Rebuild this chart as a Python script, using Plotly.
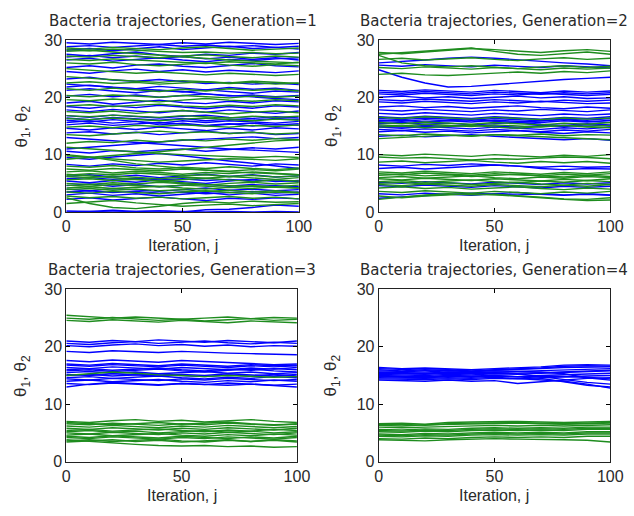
import plotly.graph_objects as go

iterations = [0, 10, 20, 30, 40, 50, 60, 70, 80, 90, 100]

gen1_theta1 = [
    [29.5,29.3,29.6,29.4,29.2,29.5,29.3,29.6,29.4,29.2,29.4],
    [28.8,29.0,28.7,29.0,29.2,28.9,29.1,28.8,29.0,28.7,28.9],
    [28.2,28.5,28.1,28.4,28.8,28.3,28.6,28.9,28.5,28.7,28.4],
    [27.5,27.2,27.6,27.9,27.4,27.1,27.5,27.3,27.7,27.5,27.8],
    [27.0,27.3,26.9,27.2,26.8,27.1,26.7,27.0,26.6,26.9,26.5],
    [26.5,26.8,26.3,26.6,26.9,26.5,26.2,26.6,26.4,26.7,26.9],
    [25.2,25.5,25.1,25.6,25.8,25.4,25.2,25.6,25.9,25.5,25.3],
    [24.5,24.2,24.6,24.9,24.5,24.8,24.4,24.7,24.5,24.3,24.6],
    [23.2,23.5,23.0,22.8,23.1,22.7,22.4,22.6,22.3,22.5,22.2],
    [22.3,22.0,21.8,21.5,21.9,21.6,21.3,21.7,21.4,21.6,21.2],
    [21.8,22.1,21.7,21.5,21.2,21.0,20.6,20.3,20.0,19.8,19.6],
    [21.2,21.5,21.1,20.8,21.2,20.9,21.3,21.0,20.7,21.1,20.9],
    [20.2,20.5,20.1,20.4,20.0,20.3,20.6,20.2,20.4,20.1,20.3],
    [19.0,19.3,18.8,19.2,19.5,19.1,18.9,19.3,19.0,19.4,19.2],
    [18.4,18.1,18.5,18.2,18.6,18.3,18.0,18.4,18.1,18.5,18.3],
    [17.8,17.5,17.9,17.6,17.3,17.7,17.4,17.8,17.5,17.2,17.6],
    [16.8,16.5,16.9,16.6,16.4,16.7,16.9,16.5,16.3,16.6,16.4],
    [16.4,16.1,16.5,16.2,16.0,16.3,15.9,16.2,16.0,16.3,16.1],
    [16.0,15.7,16.1,15.8,15.5,15.9,15.6,15.9,15.7,15.5,15.8],
    [15.6,15.9,15.5,15.8,15.2,15.5,15.1,15.4,15.0,15.3,15.1],
    [15.2,15.5,15.1,15.4,15.6,15.3,15.0,15.3,15.5,15.2,15.4],
    [14.6,14.3,14.7,14.4,14.8,14.5,14.2,14.6,14.3,14.7,14.5],
    [13.8,14.0,13.6,13.9,13.5,13.8,14.1,13.7,13.9,13.5,13.7],
    [13.0,12.7,12.4,12.1,11.8,11.5,11.2,11.0,10.8,10.6,10.4],
    [11.0,11.3,11.6,12.0,12.2,12.5,12.7,12.9,13.1,12.8,13.0],
    [10.6,10.3,10.7,10.5,10.8,11.0,10.6,10.9,11.2,11.0,11.3],
    [9.5,9.2,9.6,9.9,10.2,9.8,9.3,8.9,8.5,8.0,7.6],
    [8.3,8.0,8.4,8.1,8.5,8.2,8.6,8.3,8.0,8.4,8.2],
    [6.2,6.5,6.1,6.4,6.0,6.3,6.6,6.2,6.5,6.1,6.3],
    [5.8,6.0,5.7,5.9,5.6,5.8,5.5,5.7,5.4,5.6,5.3],
    [5.4,5.1,5.5,5.2,5.6,5.3,5.0,5.4,5.7,5.3,5.5],
    [4.6,4.9,4.5,4.8,4.4,4.7,4.9,4.5,4.8,4.6,4.4],
    [4.0,3.7,4.1,3.8,3.6,3.9,4.2,3.8,4.0,3.7,3.9],
    [3.5,3.7,3.4,3.6,3.3,3.5,3.2,3.4,3.6,3.3,3.5],
    [3.0,3.3,2.9,3.2,2.8,3.1,3.4,3.0,3.3,2.9,3.1],
    [2.2,2.5,2.1,2.4,2.6,2.3,2.0,2.4,2.2,2.5,2.3],
    [0.2,0.1,0.3,0.1,0.2,0.0,0.4,0.5,0.8,1.2,1.0],
    [0.0,0.1,0.0,0.1,0.2,0.1,0.0,0.1,0.0,0.1,0.0],
]

gen1_theta2 = [
    [28.6,28.4,28.7,28.5,28.3,28.6,28.8,28.5,28.2,28.4,28.6],
    [28.3,28.1,28.4,28.2,28.0,27.8,27.9,27.7,27.8,27.6,27.7],
    [28.0,28.2,27.9,27.6,27.3,27.0,26.8,26.5,26.3,26.1,26.0],
    [27.2,27.0,27.3,27.1,26.9,27.2,27.4,27.1,26.9,27.2,27.0],
    [26.6,26.4,26.7,26.5,26.3,26.1,25.9,26.2,26.0,25.8,26.1],
    [26.0,25.8,26.1,25.7,25.5,25.8,26.0,25.6,25.4,25.7,25.5],
    [25.0,24.7,24.5,24.2,24.4,24.1,23.9,24.2,24.0,23.8,24.0],
    [23.6,23.3,23.0,22.8,22.6,22.9,22.7,22.5,22.8,22.6,22.4],
    [22.5,22.7,22.4,22.6,22.3,22.5,22.7,22.4,22.6,22.3,22.5],
    [21.5,21.2,21.6,21.3,21.0,21.4,21.1,21.5,21.2,21.4,21.1],
    [20.3,20.1,20.4,20.2,20.0,20.3,20.1,19.9,20.2,20.0,20.2],
    [19.6,19.4,19.7,19.5,19.2,19.5,19.8,19.5,19.3,19.6,19.4],
    [18.5,18.7,18.4,18.6,18.8,18.5,18.3,18.6,18.4,18.7,18.5],
    [17.5,17.3,17.6,17.2,17.5,17.7,17.4,17.1,17.4,17.6,17.3],
    [16.8,16.6,16.9,16.7,16.5,16.8,16.6,16.4,16.7,16.5,16.7],
    [16.3,16.1,16.4,16.2,15.9,16.2,16.4,16.1,15.9,16.2,16.0],
    [14.8,15.0,14.7,15.1,14.9,15.2,15.0,14.8,15.1,14.9,15.2],
    [13.5,13.3,13.6,13.9,14.1,13.8,14.0,13.7,13.9,13.6,13.8],
    [12.0,12.3,12.1,12.5,12.2,12.6,12.4,12.7,12.5,12.8,12.6],
    [9.2,9.5,9.8,10.2,10.5,10.9,11.3,11.6,12.0,12.4,12.6],
    [11.3,11.0,10.7,10.5,10.2,10.0,9.8,9.6,9.5,9.7,9.5],
    [10.0,9.6,9.0,8.4,8.0,7.6,7.3,7.0,6.8,6.6,6.5],
    [9.8,9.5,9.2,9.0,8.7,8.9,9.1,9.3,9.2,9.0,9.3],
    [8.0,7.8,8.1,7.7,7.5,7.8,7.6,7.9,7.6,7.4,7.7],
    [7.5,7.3,7.6,7.4,7.2,7.5,7.3,7.1,7.4,7.2,7.5],
    [7.0,7.2,6.8,7.1,6.9,6.6,6.9,6.7,7.0,6.8,6.5],
    [6.6,6.3,6.0,5.6,5.3,5.0,4.8,4.6,4.5,4.3,4.2],
    [6.4,6.7,6.5,6.8,6.6,6.3,6.5,6.2,6.4,6.1,6.3],
    [6.2,6.0,6.3,6.1,5.8,6.1,5.9,6.2,6.0,5.7,6.0],
    [5.6,5.8,5.5,5.7,5.4,5.6,5.9,5.6,5.3,5.6,5.4],
    [5.0,4.8,5.1,4.9,5.2,4.9,4.7,5.0,5.2,4.9,5.1],
    [4.7,4.5,4.8,4.6,4.4,4.7,4.5,4.3,4.6,4.4,4.7],
    [4.2,4.4,4.1,4.3,4.5,4.2,4.0,4.3,4.1,4.4,4.2],
    [3.9,4.1,3.8,4.0,3.7,3.9,3.6,3.8,3.5,3.7,3.4],
    [3.5,3.3,3.6,3.4,3.2,3.5,3.7,3.4,3.2,3.5,3.3],
    [2.8,2.5,2.7,2.4,2.6,2.3,2.5,2.7,2.4,2.6,2.3],
    [2.5,1.5,0.8,0.6,1.0,1.5,1.8,1.6,1.9,1.7,1.8],
    [1.5,1.8,2.0,1.6,1.3,1.0,1.2,1.4,1.1,1.3,1.5],
]

gen2_theta1 = [
    [26.0,26.2,26.5,26.8,27.0,26.8,26.5,26.2,26.0,25.8,25.5],
    [25.6,25.4,25.7,25.5,25.3,25.6,25.4,25.2,25.5,25.3,25.1],
    [24.8,23.5,22.5,21.8,21.9,22.2,22.6,22.9,23.1,23.3,23.5],
    [21.2,21.0,21.3,21.1,20.9,21.2,21.0,20.8,21.1,20.9,21.1],
    [20.9,20.7,21.0,20.8,20.6,20.9,20.7,20.5,20.8,20.6,20.8],
    [20.6,20.4,20.7,20.5,20.3,20.6,20.4,20.7,20.5,20.3,20.5],
    [20.0,20.2,19.9,20.1,19.8,20.0,20.2,19.9,20.1,19.8,19.9],
    [19.6,19.4,19.7,19.5,19.3,19.6,19.4,19.2,19.5,19.3,19.5],
    [19.2,19.0,19.3,19.1,18.9,19.2,19.0,19.3,19.1,18.9,19.0],
    [18.3,18.5,18.2,18.4,18.1,18.3,18.5,18.2,18.0,18.3,18.1],
    [17.8,17.6,17.9,17.7,17.5,17.8,17.6,17.9,17.7,17.5,17.8],
    [17.2,17.0,17.3,17.1,16.9,17.2,17.0,16.8,17.1,16.9,17.1],
    [16.6,16.4,16.7,16.5,16.3,16.6,16.4,16.2,16.5,16.3,16.6],
    [16.3,16.1,16.4,16.2,16.0,16.3,16.1,15.9,16.2,16.0,16.3],
    [16.0,15.8,16.1,15.9,15.7,16.0,15.8,15.6,15.9,15.7,16.0],
    [15.8,16.0,15.7,15.9,16.1,15.8,15.6,15.9,16.1,15.8,15.6],
    [15.4,15.6,15.3,15.5,15.2,15.4,15.6,15.3,15.1,15.4,15.2],
    [15.0,14.8,15.1,14.9,15.2,15.0,14.8,15.1,14.9,15.2,15.0],
    [14.8,14.6,14.9,14.7,14.5,14.8,14.6,14.4,14.7,14.5,14.8],
    [14.4,14.2,14.5,14.3,14.1,14.4,14.2,14.0,14.3,14.1,14.4],
    [14.0,14.2,13.9,14.1,13.8,14.0,14.2,13.9,13.7,14.0,13.8],
    [13.2,13.4,13.1,13.3,13.5,13.2,13.0,12.8,12.6,12.8,12.5],
    [8.2,8.0,8.3,8.1,8.4,8.2,8.0,7.8,8.0,7.8,7.9],
    [7.6,7.8,7.5,7.7,7.9,8.2,8.0,7.6,7.4,7.6,7.5],
    [5.2,5.0,5.3,5.1,4.9,5.2,5.0,4.8,5.1,4.9,5.1],
    [4.6,4.4,4.7,4.5,4.3,4.6,4.4,4.2,4.5,4.3,4.5],
    [3.2,3.0,3.3,3.1,2.9,3.2,3.4,3.1,2.9,3.2,3.0],
    [2.4,2.6,2.9,3.1,3.3,3.1,3.0,3.2,3.0,3.1,2.9],
]

gen2_theta2 = [
    [27.8,27.6,27.9,28.2,28.5,28.3,28.0,27.8,28.1,28.3,28.0],
    [27.5,27.8,28.0,28.3,28.6,28.0,27.5,27.3,27.6,27.9,27.5],
    [27.3,26.0,25.5,25.3,25.5,25.2,25.0,25.3,25.5,25.2,25.4],
    [26.6,26.8,26.5,26.7,26.9,26.6,26.4,26.7,26.9,26.6,26.8],
    [25.2,25.0,25.3,25.1,24.9,25.2,25.0,24.8,25.1,24.9,25.1],
    [24.0,24.2,23.9,23.8,24.0,24.2,24.4,24.2,24.5,24.3,24.6],
    [16.5,16.3,16.6,16.4,16.2,16.5,16.3,16.1,16.4,16.2,16.4],
    [15.6,15.4,15.7,15.5,15.3,15.6,15.4,15.2,15.5,15.3,15.6],
    [15.2,15.0,15.3,15.1,14.9,15.2,15.0,14.8,15.1,14.9,15.1],
    [14.8,15.0,14.7,14.9,15.1,14.8,14.6,14.9,15.1,14.8,14.7],
    [13.5,13.3,13.6,13.4,13.2,13.5,13.3,13.1,12.9,12.7,12.6],
    [12.8,13.0,13.2,13.4,13.3,13.5,13.4,13.6,13.3,13.5,13.4],
    [10.0,9.8,10.1,9.9,9.7,10.0,9.8,9.6,9.9,9.7,10.0],
    [9.6,9.4,9.5,9.3,9.1,9.3,9.2,9.4,9.6,9.5,9.3],
    [8.7,8.9,8.6,8.8,9.0,8.7,8.5,8.8,8.6,8.8,8.5],
    [7.0,6.8,7.1,6.9,6.7,7.0,6.8,6.6,6.9,6.7,7.0],
    [6.7,6.5,6.8,6.6,6.4,6.7,6.5,6.3,6.6,6.4,6.7],
    [6.4,6.6,6.3,6.5,6.2,6.4,6.6,6.3,6.1,6.4,6.2],
    [6.0,6.2,5.9,6.1,6.3,6.0,5.8,6.1,5.9,6.2,6.0],
    [5.8,5.6,5.9,5.7,5.5,5.8,5.6,5.4,5.7,5.5,5.8],
    [5.3,5.5,5.2,5.4,5.6,5.3,5.1,5.4,5.2,5.5,5.3],
    [5.0,5.2,4.9,5.1,4.8,5.0,5.2,4.9,4.7,5.0,4.8],
    [4.8,4.6,4.9,4.7,4.5,4.8,4.6,4.4,4.7,4.5,4.8],
    [4.2,4.4,4.1,4.3,4.0,4.2,4.4,4.1,3.9,4.2,4.0],
    [3.6,3.4,3.7,3.5,3.3,3.6,3.4,3.2,3.5,3.3,3.6],
    [2.8,2.5,2.8,3.0,3.2,3.0,2.8,2.5,2.2,2.0,2.1],
    [2.2,2.6,3.0,3.2,3.0,3.1,2.9,2.6,2.3,2.2,2.5],
]

gen3_theta1 = [
    [21.0,20.8,21.1,20.9,21.2,21.0,20.8,21.1,20.9,20.7,21.0],
    [20.6,20.4,20.7,20.9,20.6,20.8,21.0,20.7,20.5,20.8,20.6],
    [20.2,20.0,20.3,20.5,20.2,20.4,20.1,20.3,20.0,20.2,20.1],
    [19.2,19.0,19.3,19.1,19.0,19.2,19.0,18.9,18.8,18.7,18.6],
    [17.6,17.4,17.7,17.5,17.3,17.6,17.4,17.2,17.0,16.9,17.0],
    [17.0,16.8,17.1,16.9,16.7,17.0,16.8,16.6,16.9,16.7,16.8],
    [16.8,16.6,16.9,16.7,16.5,16.8,16.6,16.4,16.7,16.5,16.7],
    [16.4,16.2,16.5,16.3,16.1,16.4,16.2,16.0,16.3,16.1,16.4],
    [16.0,16.2,15.9,16.1,16.3,16.0,15.8,16.1,15.9,16.2,16.0],
    [15.8,16.0,15.7,15.9,16.1,15.8,15.6,15.9,16.1,15.8,15.6],
    [15.5,15.7,15.4,15.6,15.3,15.5,15.7,15.4,15.6,15.3,15.5],
    [15.2,15.0,15.3,15.1,14.9,15.2,15.0,15.3,15.1,14.9,15.2],
    [15.0,15.2,14.9,15.1,15.3,15.0,14.8,15.1,14.9,15.2,14.9],
    [14.6,14.8,14.5,14.7,14.9,14.6,14.4,14.7,14.5,14.8,14.6],
    [14.4,14.2,14.5,14.3,14.1,14.4,14.2,14.5,14.3,14.1,14.3],
    [14.0,14.2,13.9,14.1,14.3,14.0,13.8,14.1,13.9,14.2,14.0],
    [13.6,13.4,13.7,13.5,13.3,13.6,13.4,13.7,13.5,13.3,13.5],
    [13.0,13.5,13.8,13.6,13.4,13.6,13.5,13.3,13.5,13.2,13.0],
]

gen3_theta2 = [
    [25.5,25.3,25.0,25.2,25.0,24.8,25.0,25.2,24.9,25.1,25.0],
    [25.0,24.8,25.1,24.9,24.6,24.8,24.5,24.7,24.9,24.6,24.8],
    [24.6,24.4,24.7,24.5,24.3,24.6,24.4,24.2,24.5,24.3,24.2],
    [15.0,15.3,15.6,15.4,15.1,15.0,14.8,15.0,14.9,14.7,14.8],
    [7.0,6.8,7.1,7.3,7.0,7.2,6.9,7.1,7.3,7.0,6.8],
    [6.8,6.6,6.4,6.6,6.8,6.5,6.7,6.9,6.6,6.4,6.5],
    [6.6,6.4,6.7,6.5,6.3,6.6,6.4,6.7,6.5,6.3,6.6],
    [6.2,6.0,6.3,6.1,5.9,6.2,6.0,6.3,6.1,5.9,6.1],
    [5.8,5.6,5.9,5.7,5.5,5.8,5.6,5.9,5.7,5.5,5.8],
    [5.4,5.6,5.3,5.5,5.7,5.4,5.2,5.5,5.3,5.6,5.4],
    [5.2,5.4,5.1,5.3,5.0,5.2,5.4,5.1,5.3,5.0,5.2],
    [5.0,4.8,5.1,4.9,4.7,5.0,4.8,5.1,4.9,4.7,5.0],
    [4.6,4.8,4.5,4.7,4.9,4.6,4.4,4.7,4.5,4.8,4.6],
    [4.4,4.2,4.5,4.3,4.1,4.4,4.2,4.0,4.3,4.1,4.4],
    [4.2,4.0,4.3,4.1,3.9,4.2,4.0,4.3,4.1,3.9,4.2],
    [3.6,3.8,3.5,3.7,3.9,3.6,3.4,3.7,3.5,3.8,3.6],
    [3.4,3.6,3.8,3.5,3.7,3.4,3.6,3.8,3.5,3.7,3.4],
    [3.8,3.5,3.2,3.0,2.8,2.7,2.8,2.6,2.7,2.5,2.6],
]

gen4_theta1 = [
    [16.4,16.2,16.3,16.1,16.0,16.2,16.3,16.5,16.8,16.9,16.8],
    [16.2,16.0,15.9,16.0,15.8,16.0,16.1,16.3,16.6,16.7,16.6],
    [16.0,15.8,16.0,15.9,15.7,15.9,16.0,16.2,16.4,16.5,16.5],
    [15.8,15.7,15.6,15.8,15.7,15.8,15.7,15.6,15.3,14.6,14.2],
    [15.6,15.5,15.4,15.6,15.5,15.6,15.7,15.9,16.0,16.1,16.2],
    [15.5,15.4,15.3,15.5,15.4,15.5,15.4,15.5,15.6,15.8,15.9],
    [15.4,15.3,15.2,15.4,15.3,15.4,15.3,14.8,14.3,13.8,13.5],
    [15.2,15.1,15.0,15.2,15.1,15.3,15.2,15.4,15.5,15.7,15.8],
    [15.0,14.9,14.8,15.0,14.9,15.0,14.8,14.5,13.9,13.3,13.0],
    [14.9,14.8,14.7,14.9,14.8,14.9,14.8,14.9,14.8,14.7,14.4],
    [14.8,14.7,14.6,14.8,14.7,14.9,14.8,15.0,15.1,15.3,15.4],
    [14.6,14.5,14.5,14.6,14.5,14.7,14.5,14.3,14.0,13.5,12.8],
    [14.4,14.3,14.3,14.4,14.3,14.5,14.4,14.6,14.8,14.9,15.0],
    [14.2,14.1,14.0,14.2,14.0,14.1,13.6,13.9,14.2,14.5,14.6],
]

gen4_theta2 = [
    [6.6,6.7,6.5,6.8,6.9,7.0,7.0,6.9,6.8,6.9,7.0],
    [6.4,6.5,6.3,6.6,6.7,6.8,6.8,6.7,6.6,6.7,6.8],
    [6.3,6.2,6.4,6.5,6.6,6.6,6.7,6.6,6.5,6.6,6.7],
    [6.0,5.9,6.0,6.1,6.2,6.3,6.2,6.3,6.2,6.3,6.4],
    [5.6,5.5,5.7,5.6,5.8,5.9,5.8,5.9,5.8,6.0,6.0],
    [5.4,5.3,5.5,5.4,5.6,5.7,5.6,5.7,5.6,5.8,5.8],
    [5.2,5.1,5.3,5.2,5.4,5.5,5.4,5.5,5.4,5.6,5.6],
    [4.8,4.7,4.9,4.8,5.0,5.1,5.0,5.1,5.0,5.2,5.2],
    [4.6,4.5,4.7,4.6,4.8,4.9,4.8,4.9,4.8,5.0,5.0],
    [4.4,4.3,4.5,4.4,4.6,4.7,4.6,4.7,4.6,4.8,4.8],
    [4.0,3.9,4.1,4.0,4.2,4.3,4.2,4.3,4.2,4.4,4.4],
    [3.8,3.7,3.6,3.8,3.9,4.0,3.9,3.9,3.8,3.7,3.4],
]

titles = ["Bacteria trajectories, Generation=1", "Bacteria trajectories, Generation=2",
          "Bacteria trajectories, Generation=3", "Bacteria trajectories, Generation=4"]
x_title = "Iteration, j"
y_title = "θ<sub>1</sub>, θ<sub>2</sub>"
x_ticks = [0, 50, 100]
y_ticks = [0, 10, 20, 30]

panels = [
    (gen1_theta1, gen1_theta2),
    (gen2_theta1, gen2_theta2),
    (gen3_theta1, gen3_theta2),
    (gen4_theta1, gen4_theta2),
]

W, H = 634, 516
# plot-area pixel boxes: (left, right, top, bottom)
boxes = [(64, 303, 33, 211), (385, 623, 33, 211), (64, 301, 291, 469), (385, 623, 291, 469)]
ylabel_x = [19, 338, 19, 338]

BLUE = "#0000ff"
GREEN = "#1e8c1e"
FONT = "Arial, Liberation Sans, sans-serif"
TITLE_FONT = "DejaVu Sans, sans-serif"
TXT = "#2a2a2a"

fig = go.Figure()


def flatten(series):
    xs, ys = [], []
    for s in series:
        xs.extend(iterations + [None])
        ys.extend(s + [None])
    return xs, ys


layout = dict(width=W, height=H, margin=dict(l=0, r=0, t=0, b=0),
              paper_bgcolor="white", plot_bgcolor="white", showlegend=False,
              font=dict(family=FONT, color=TXT, size=16), annotations=[])

for i, ((t1, t2), (l, r, t, b)) in enumerate(zip(panels, boxes)):
    n = i + 1
    xa = "x" if n == 1 else f"x{n}"
    ya = "y" if n == 1 else f"y{n}"
    for series, col in ((t1, BLUE), (t2, GREEN)):
        xs, ys = flatten(series)
        fig.add_trace(go.Scatter(x=xs, y=ys, mode="lines", xaxis=xa, yaxis=ya,
                                 line=dict(color=col, width=1.4), hoverinfo="skip",
                                 connectgaps=False))
    xkey = "xaxis" if n == 1 else f"xaxis{n}"
    ykey = "yaxis" if n == 1 else f"yaxis{n}"
    layout[xkey] = dict(domain=[l / W, r / W], anchor=ya, range=[0, 100],
                        tickvals=x_ticks, ticks="inside", ticklen=4, tickcolor="#000",
                        showline=True, linecolor="#222", linewidth=1, mirror="ticks",
                        showgrid=False, zeroline=False,
                        tickfont=dict(family=FONT, size=16, color=TXT))
    layout[ykey] = dict(domain=[1 - b / H, 1 - t / H], anchor=xa, range=[0, 30],
                        tickvals=y_ticks, ticks="inside", ticklen=4, tickcolor="#000",
                        showline=True, linecolor="#222", linewidth=1, mirror="ticks",
                        showgrid=False, zeroline=False,
                        tickfont=dict(family=FONT, size=16, color=TXT))
    cx = (l + r) / 2 / W
    layout["annotations"].append(dict(text=titles[i], x=cx, y=1 - (t - 20) / H,
                                      xref="paper", yref="paper", xanchor="center", yanchor="middle",
                                      showarrow=False, font=dict(family=TITLE_FONT, size=15, color=TXT)))
    layout["annotations"].append(dict(text=x_title, x=cx, y=1 - (b + 35) / H,
                                      xref="paper", yref="paper", xanchor="center", yanchor="middle",
                                      showarrow=False, font=dict(family=FONT, size=16, color=TXT)))
    layout["annotations"].append(dict(text=y_title, x=ylabel_x[i] / W, y=1 - (t + b) / 2 / H,
                                      xref="paper", yref="paper", xanchor="center", yanchor="middle",
                                      textangle=-90, showarrow=False, font=dict(family=FONT, size=17, color=TXT)))

fig.update_layout(**layout)
fig.write_html("out.html")
